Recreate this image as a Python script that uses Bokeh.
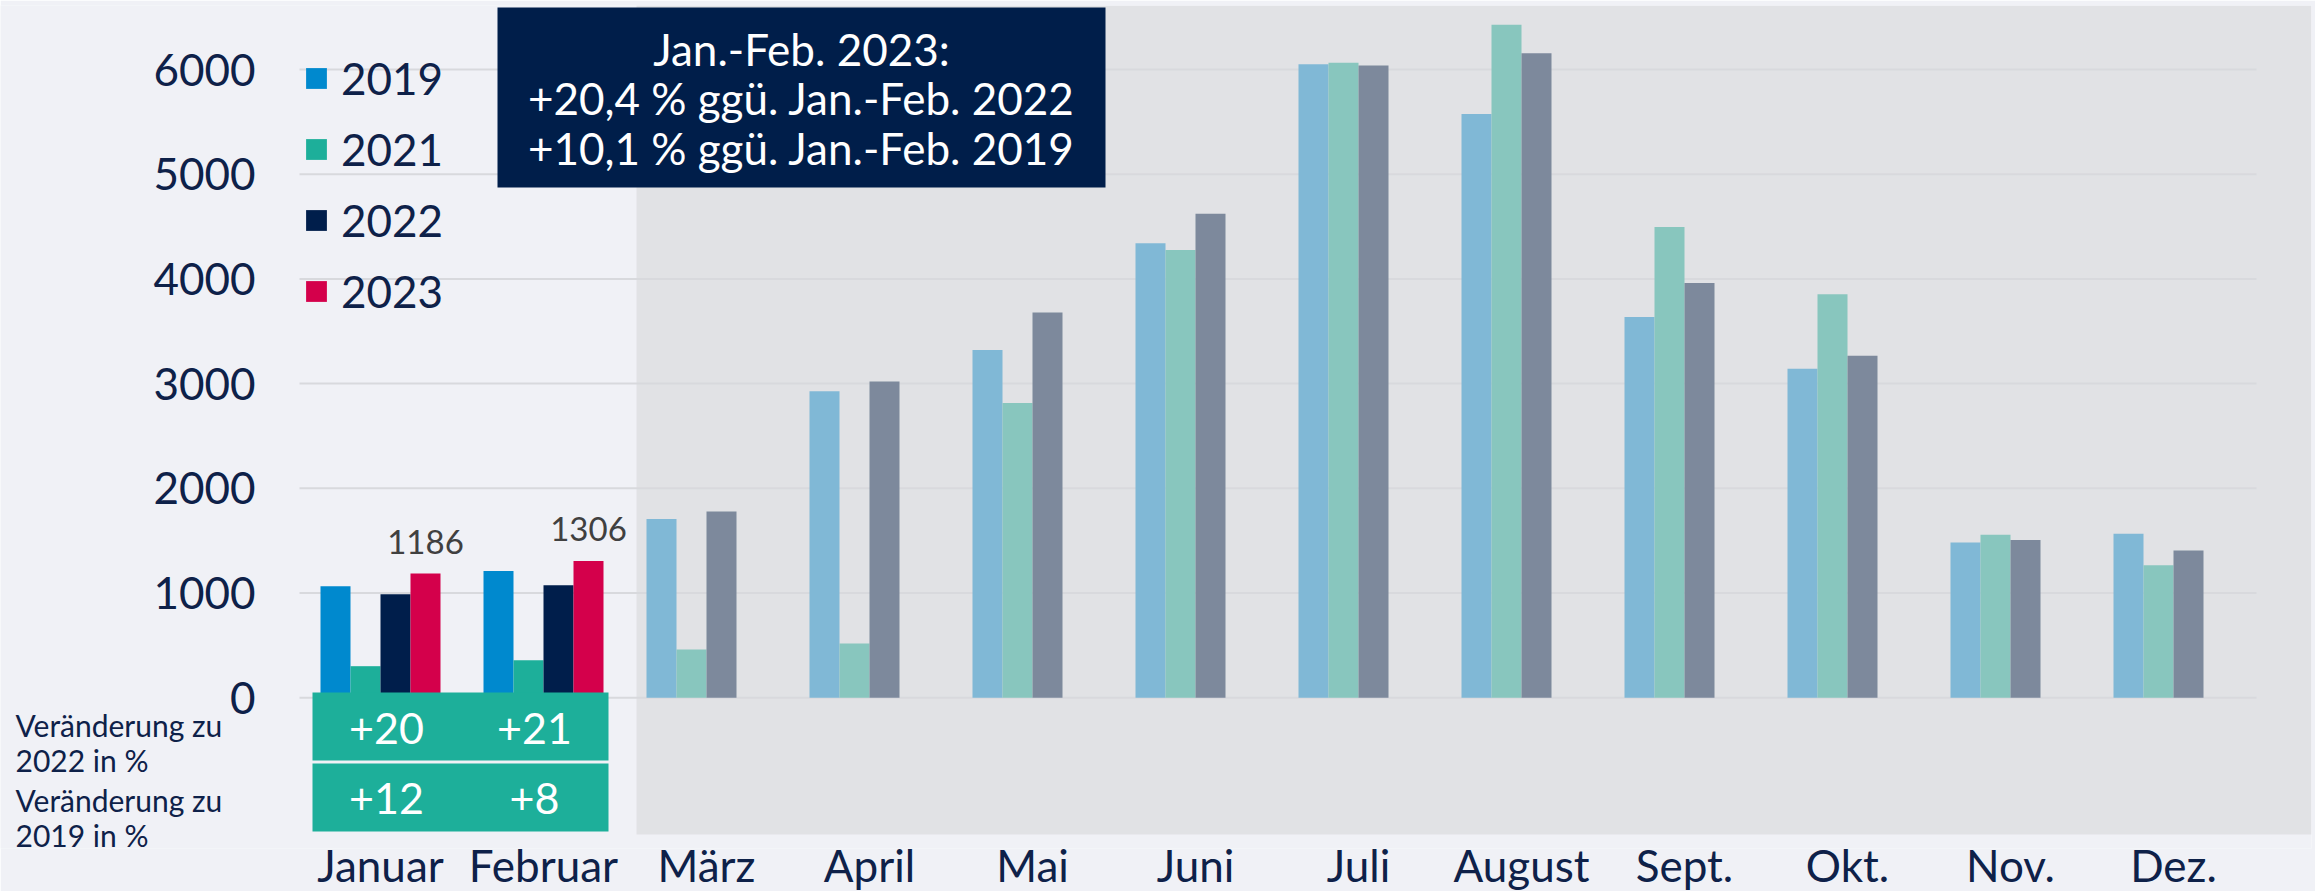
from bokeh.plotting import figure
from bokeh.models import Range1d, FixedTicker, BoxAnnotation, Legend, LegendItem
from bokeh.core.properties import value
from bokeh.embed import file_html
from bokeh.resources import INLINE

# ---------------- data ----------------
months = ["Januar", "Februar", "März", "April", "Mai", "Juni", "Juli",
          "August", "Sept.", "Okt.", "Nov.", "Dez."]
years = ["2019", "2021", "2022", "2023"]
v2019 = [1065, 1211, 1707, 2927, 3322, 4340, 6050, 5574, 3637, 3142, 1483, 1565]
v2021 = [301, 358, 460, 517, 2815, 4276, 6065, 6428, 4496, 3853, 1557, 1264]
v2022 = [989, 1074, 1779, 3020, 3680, 4622, 6038, 6156, 3962, 3265, 1506, 1405]
v2023 = [1186, 1306]
chg_2022 = [20, 21]
chg_2019 = [12, 8]
y_ticks = [0, 1000, 2000, 3000, 4000, 5000, 6000]
box_lines = ["Jan.-Feb. 2023:", "+20,4 % ggü. Jan.-Feb. 2022", "+10,1 % ggü. Jan.-Feb. 2019"]
row_labels = [["Veränderung zu", "2022 in %"], ["Veränderung zu", "2019 in %"]]

# ---------------- style ----------------
FONT = "Lato"
NAVY_TXT = "#0E2149"
BG = "#F0F1F6"
BAND = "#E1E2E5"
GRID = "#D8D9DD"
FULL = {"2019": "#0089CE", "2021": "#1DAF9A", "2022": "#001E4B", "2023": "#D4004B"}
FADED = {"2019": "#80B8D6", "2021": "#88C6BE", "2022": "#7D899C"}
TABLE = "#1DAF9A"

# layout (pixels)
W, H = 2315, 891
FL, FR, FT, FB = 0, 2311, 5, 848
BAND_B = 834
X0, DX = 380.0, 163.0          # pixel centre of first month, month spacing
Y0, DY = 697.2, 0.1047         # pixel of value 0, pixels per unit
BARW = 30.0 / DX


def px2x(px):
    return (px - X0) / DX


def py2y(py):
    return (Y0 - py) / DY


p = figure(width=W, height=H, output_backend="svg", toolbar_location=None,
           x_range=Range1d(px2x(FL), px2x(FR)), y_range=Range1d(py2y(FB), py2y(FT)),
           frame_width=FR - FL, frame_height=FB - FT, y_axis_location=None,
           min_border_left=FL, min_border_right=W - FR, min_border_top=FT,
           min_border_bottom=H - FB)
p.background_fill_color = BG
p.border_fill_color = BG
p.outline_line_color = None
p.xgrid.visible = False
p.ygrid.visible = False

# grey band behind March-December
p.add_layout(BoxAnnotation(left=px2x(636), bottom=py2y(BAND_B), fill_color=BAND,
                           fill_alpha=1.0, line_color=None, level="underlay"))

# gridlines
p.segment(x0=[px2x(299)] * len(y_ticks), x1=[px2x(2256)] * len(y_ticks),
          y0=y_ticks, y1=y_ticks, line_color=GRID, line_width=2)

# y tick labels
p.text(x=[px2x(255)] * len(y_ticks), y=y_ticks, text=[str(t) for t in y_ticks],
       text_font=value(FONT), text_font_size="44px", text_color=NAVY_TXT,
       text_align="right", text_baseline="middle")

# bars
series = {"2019": v2019, "2021": v2021, "2022": v2022, "2023": v2023}
legend_renderers = {}
for k, yr in enumerate(years):
    vals = series[yr]
    off = (k - 1.5) * BARW
    idx = list(range(len(vals)))
    early = [i for i in idx if i < 2]
    late = [i for i in idx if i >= 2]
    r = p.vbar(x=[i + off for i in early], top=[vals[i] for i in early], bottom=0,
               width=BARW, fill_color=FULL[yr], line_color=None)
    legend_renderers[yr] = r
    if late:
        p.vbar(x=[i + off for i in late], top=[vals[i] for i in late], bottom=0,
               width=BARW, fill_color=FADED[yr], line_color=None)

# value labels on 2023 bars
off23 = 1.5 * BARW
p.text(x=[i + off23 for i in range(len(v2023))], y=v2023, text=[str(v) for v in v2023],
       text_font=value(FONT), text_font_size="33px", text_color="#404040",
       text_align="center", text_baseline="middle", y_offset=-32)

# table under Jan/Feb
tl, tr = px2x(312), px2x(608)
p.quad(left=[tl, tl], right=[tr, tr], top=[py2y(692), py2y(763)],
       bottom=[py2y(760), py2y(831)], fill_color=TABLE, line_color=None)
col_x = [px2x(386), px2x(534)]
p.text(x=col_x, y=[py2y(728)] * 2, text=["+%d" % v for v in chg_2022],
       text_font=value(FONT), text_font_size="43px", text_color="white",
       text_align="center", text_baseline="middle")
p.text(x=col_x, y=[py2y(798)] * 2, text=["+%d" % v for v in chg_2019],
       text_font=value(FONT), text_font_size="43px", text_color="white",
       text_align="center", text_baseline="middle")

# row labels of the table
row_py = [[724, 759], [799, 834]]
lab_txt = [t for lines in row_labels for t in lines]
lab_y = [py2y(py) for pys in row_py for py in pys]
p.text(x=[px2x(15)] * len(lab_txt), y=lab_y, text=lab_txt,
       text_font=value(FONT), text_font_size="30px", text_color=NAVY_TXT,
       text_align="left", text_baseline="middle")

# annotation box
p.quad(left=[px2x(497)], right=[px2x(1105)], top=[py2y(7)], bottom=[py2y(187)],
       fill_color="#001E4A", line_color=None)
p.text(x=[px2x(801)] * 3, y=[py2y(48), py2y(97), py2y(147)], text=box_lines,
       text_font=value(FONT), text_font_size="44px", text_color="white",
       text_align="center", text_baseline="middle")

# x axis
p.xaxis.ticker = FixedTicker(ticks=list(range(len(months))))
p.xaxis.major_label_overrides = {i: m for i, m in enumerate(months)}
p.xaxis.axis_line_color = None
p.xaxis.major_tick_line_color = None
p.xaxis.minor_tick_line_color = None
p.xaxis.major_tick_out = 0
p.xaxis.major_label_standoff = -10
p.xaxis.major_label_text_font = FONT
p.xaxis.major_label_text_font_size = "44px"
p.xaxis.major_label_text_color = NAVY_TXT

# legend (location = bottom-left corner, measured from frame bottom-left)
legend = Legend(items=[LegendItem(label=yr, renderers=[legend_renderers[yr]]) for yr in years],
                location=(303 - FL, FB - 317), padding=0, margin=0,
                spacing=19, glyph_width=26, glyph_height=26, label_standoff=12,
                label_height=26, label_text_font=FONT, label_text_font_size="44px",
                label_text_color=NAVY_TXT, label_text_baseline="middle",
                background_fill_alpha=0, border_line_alpha=0)
p.add_layout(legend)

open("out.html", "w").write(file_html(p, INLINE))
